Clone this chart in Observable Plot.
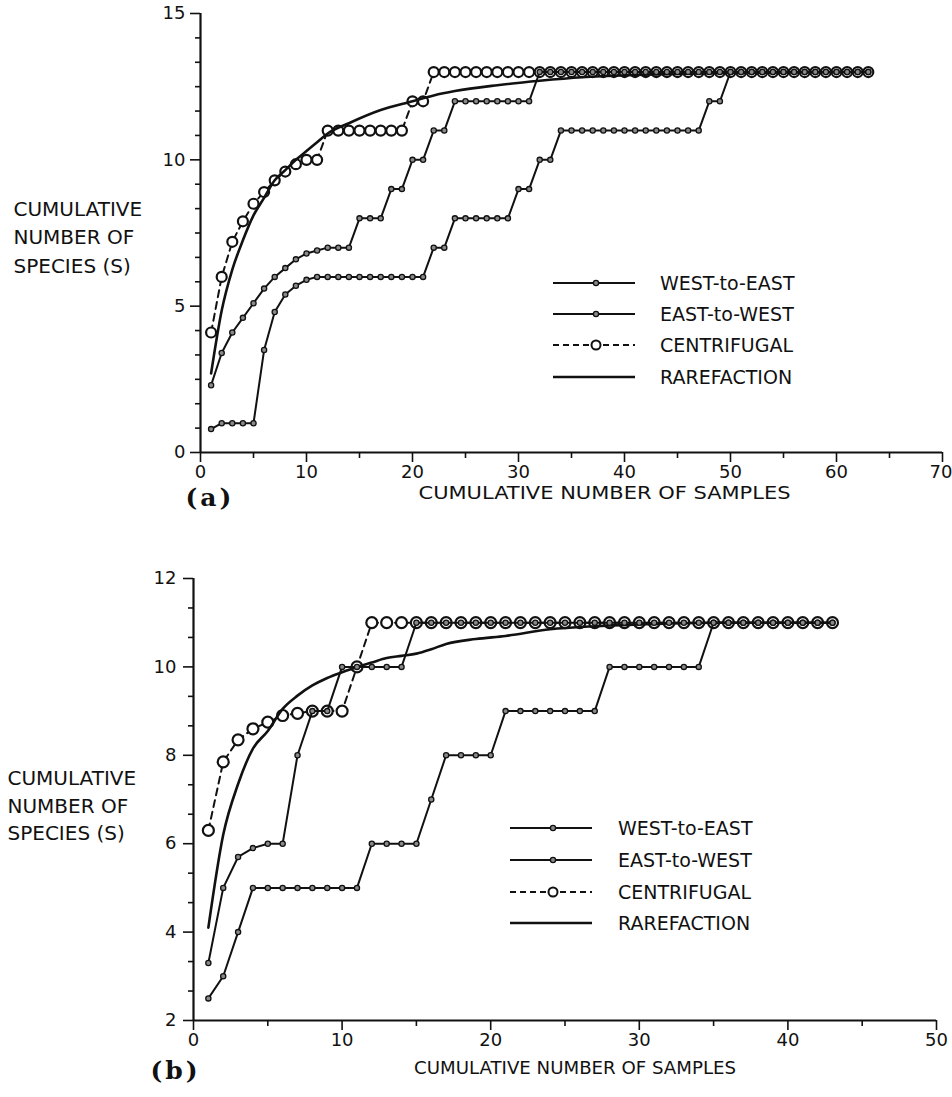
<!DOCTYPE html>
<html><head><meta charset="utf-8">
<script src="https://cdn.jsdelivr.net/npm/d3@7"></script>
<script src="https://cdn.jsdelivr.net/npm/@observablehq/plot@0.6"></script>
<style>
body{margin:0;background:#fff;}
#wrap{position:relative;width:952px;height:1097px;overflow:hidden;background:#fff;}
#wrap svg{display:block;}
#legend{position:absolute;left:0;top:0;pointer-events:none;}
</style></head><body><div id="wrap"></div>
<script>
// ---------- Panel (a) data (sample 1..63) ----------
const westEastA = [0.8,1,1,1,1,3.5,4.8,5.4,5.7,5.9,
  6,6,6,6,6,6,6,6,6,6,6,
  7,7,8,8,8,8,8,8,9,9,10,10,
  11,11,11,11,11,11,11,11,11,11,11,11,11,11,
  12,12,
  13,13,13,13,13,13,13,13,13,13,13,13,13,13];
const eastWestA = [2.3,3.4,4.1,4.6,5.1,5.6,6.0,6.3,6.6,6.8,6.9,
  7,7,7,8,8,8,9,9,10,10,11,11,
  12,12,12,12,12,12,12,12,
  13,13,13,13,13,13,13,13,13,13,13,13,13,13,13,13,
  13,13,13,13,13,13,13,13,13,13,13,13,13,13,13,13];
const centrifugalA = [4.1,6.0,7.2,7.9,8.5,8.9,9.3,9.6,9.85,10,10,
  11,11,11,11,11,11,11,11,12,12,
  13,13,13,13,13,13,13,13,13,13,13,13,13,13,13,13,13,13,13,13,13,
  13,13,13,13,13,13,13,13,13,13,13,13,13,13,13,13,13,13,13,13,13];
const rareNA = [1,2,3,4,5,6,7,8,9,10,11,12,14,17,20,22,24,28,32,36,41,50,63];
const rareSA = [2.7,4.85,6.25,7.25,8.1,8.7,9.3,9.65,10.0,10.3,10.6,10.9,11.25,11.7,12.0,12.2,12.35,12.55,12.7,12.82,12.9,12.97,13.0];
const xMajorA = [0,10,20,30,40,50,60,70];
const xMinorA = [5,15,25,35,45,55,65];
const yMajorA = [0,5,10,15];

// ---------- Panel (b) data (sample 1..43) ----------
const westEastB = [2.5,3.0,4.0,5,5,5,5,5,5,5,5,
  6,6,6,6,7,8,8,8,8,
  9,9,9,9,9,9,9,
  10,10,10,10,10,10,10,
  11,11,11,11,11,11,11,11,11];
const eastWestB = [3.3,5.0,5.7,5.9,6.0,6.0,8.0,9,9,10,10,10,10,10,
  11,11,11,11,11,11,11,11,11,11,11,11,11,11,11,11,11,11,11,11,11,11,11,11,11,11,11,11,11];
const centrifugalB = [6.3,7.85,8.35,8.6,8.75,8.9,8.95,9,9,9,10,
  11,11,11,11,11,11,11,11,11,11,11,11,11,11,11,11,11,11,11,11,11,11,11,11,11,11,11,11,11,11,11,11];
const rareNB = [1,2,3,4,5,6,7,8,9,10,11,12,13,14,15,16,17,19,21,24,27,30,35,43];
const rareSB = [4.1,6.2,7.35,8.15,8.55,9.05,9.35,9.58,9.75,9.88,10.0,10.1,10.2,10.25,10.3,10.4,10.52,10.63,10.7,10.85,10.92,10.96,11.0,11.0];
const xMajorB = [0,10,20,30,40,50];
const xMinorB = [5,15,25,35,45];
const yMajorB = [2,4,6,8,10,12];

const legendNames = ["WEST-to-EAST","EAST-to-WEST","CENTRIFUGAL","RAREFACTION"];
const yTitle = "CUMULATIVE\nNUMBER OF\nSPECIES (S)";
const xTitle = "CUMULATIVE NUMBER OF SAMPLES";

const toPts = arr => arr.map((s,i)=>({n:i+1, s}));
const pairs = (ns, ss) => ns.map((n,i)=>({n, s:ss[i]}));
const FONT = "DejaVu Sans, Liberation Sans, sans-serif";

function panel(o){
  const dotStyle = {x:"n", y:"s", r:2.6, fill:"#8a8a8a", stroke:"#111", strokeWidth:1.3};
  const lineStyle = {x:"n", y:"s", stroke:"#111", strokeWidth:2};
  return Plot.plot({
    width:952, height:o.height,
    marginLeft:o.ml, marginRight:o.mr, marginTop:o.mt, marginBottom:o.mb,
    style:{fontFamily:FONT, color:"#111", background:"#fff", overflow:"visible"},
    x:{domain:o.xDomain},
    y:{domain:o.yDomain},
    marks:[
      Plot.axisX({ticks:o.xMajor, tickSize:10, tickPadding:3, fontSize:18, tickFormat:d=>d, label:null, strokeWidth:1.6}),
      Plot.axisX({ticks:o.xMinor, tickSize:6, text:null, label:null, strokeWidth:1.6}),
      Plot.axisY({ticks:o.yMajor, tickSize:10, tickPadding:o.ytp, fontSize:18, tickFormat:d=>d, label:null, strokeWidth:1.6}),
      Plot.axisY({ticks:o.yMinor, tickSize:5, text:null, label:null, strokeWidth:1.6}),
      Plot.ruleX([o.xDomain[0]], {stroke:"#111", strokeWidth:2.2}),
      Plot.ruleY([o.yDomain[0]], {stroke:"#111", strokeWidth:2.2}),
      Plot.line(toPts(o.cen), {x:"n", y:"s", stroke:"#111", strokeWidth:2, strokeDasharray:"7,5"}),
      Plot.dot(toPts(o.cen), {x:"n", y:"s", r:o.cr, fill:"#fff", stroke:"#111", strokeWidth:2.2}),
      Plot.line(pairs(o.rn, o.rs), {x:"n", y:"s", stroke:"#111", strokeWidth:2.6, curve:"monotone-x"}),
      Plot.line(toPts(o.we), lineStyle),
      Plot.line(toPts(o.ew), lineStyle),
      Plot.dot(toPts(o.we), dotStyle),
      Plot.dot(toPts(o.ew), dotStyle),
      Plot.text([yTitle], {frameAnchor:"top-left", textAnchor:"start", lineAnchor:"top", dx:o.ytx, dy:o.yty, fontSize:20, lineHeight:o.ylh, fill:"#111"}),
      Plot.text([xTitle], {frameAnchor:"bottom", textAnchor:"middle", lineAnchor:"middle", dx:o.xtx, dy:o.xty, fontSize:17, fill:"#111"}),
      Plot.text([o.tag], {frameAnchor:"bottom-left", textAnchor:"start", lineAnchor:"middle", dx:o.tgx, dy:o.tgy, fontSize:25, fontWeight:"bold", fontFamily:"DejaVu Serif, serif", fill:"#111"})
    ]
  });
}

const wrap = document.getElementById("wrap");
const svgA = panel({height:520, ml:200, mr:10, mt:13, mb:68, xDomain:[0,70], yDomain:[0,15],
  xMajor:xMajorA, xMinor:xMinorA, yMajor:yMajorA, yMinor:d3.range(0,15.001,5/6).filter(v=>Math.abs(v%5)>0.01 && Math.abs(v%5-5)>0.01),
  ytp:5, we:westEastA, ew:eastWestA, cen:centrifugalA, rn:rareNA, rs:rareSA, cr:5,
  ytx:-187, yty:182, ylh:1.43, xtx:33, xty:41, tag:"(a)", tgx:-15, tgy:45});
const svgB = panel({height:577, ml:193, mr:16, mt:58, mb:77, xDomain:[0,50], yDomain:[2,12],
  xMajor:xMajorB, xMinor:xMinorB, yMajor:yMajorB, yMinor:d3.range(2,12.001,2/3).filter(v=>Math.abs((v-2)%2)>0.01 && Math.abs((v-2)%2-2)>0.01),
  ytp:7, we:westEastB, ew:eastWestB, cen:centrifugalB, rn:rareNB, rs:rareSB, cr:5.5,
  ytx:-186, yty:187, ylh:1.375, xtx:10, xty:48, tag:"(b)", tgx:-43, tgy:50});
wrap.appendChild(svgA);
wrap.appendChild(svgB);

function fitTitle(svg, len){
  d3.select(svg).selectAll("text").filter(function(){return this.textContent===xTitle;})
    .attr("textLength", len).attr("lengthAdjust","spacingAndGlyphs");
}
fitTitle(svgA, 372); fitTitle(svgB, 322);
d3.select(svgA).selectAll("text").filter(function(){return this.textContent==="(a)";}).attr("letter-spacing","3px");
d3.select(svgB).selectAll("text").filter(function(){return this.textContent==="(b)";}).attr("letter-spacing","3px");
// keep the last x tick label of panel (a) inside the page edge
d3.select(svgA).selectAll("text").filter(function(){return this.textContent==="70";})
  .attr("text-anchor","end").attr("dx","10");

// ---------- Legends ----------
const leg = d3.select(wrap).append("svg").attr("id","legend").attr("width",952).attr("height",1097);
function drawLegend(rows, x1, x2, xm, xt){
  legendNames.forEach((name,i)=>{
    const y = rows[i];
    const g = leg.append("g");
    g.append("line").attr("x1",x1).attr("x2",x2).attr("y1",y).attr("y2",y)
      .attr("stroke","#111").attr("stroke-width", i===3?2.4:2)
      .attr("stroke-dasharray", i===2?"6,4":null);
    if(i<2) g.append("circle").attr("cx",xm).attr("cy",y).attr("r",2.6).attr("fill","#8a8a8a").attr("stroke","#111").attr("stroke-width",1.3);
    if(i===2) g.append("circle").attr("cx",xm).attr("cy",y).attr("r",4.5).attr("fill","#fff").attr("stroke","#111").attr("stroke-width",2);
    g.append("text").attr("x",xt).attr("y",y).attr("dy","0.36em").attr("font-family",FONT).attr("font-size",19).attr("fill","#111").text(name);
  });
}
drawLegend([283,314,345,377], 553, 635, 596, 660);
drawLegend([828,860,892,923], 510, 592, 553, 618);
</script></body></html>
